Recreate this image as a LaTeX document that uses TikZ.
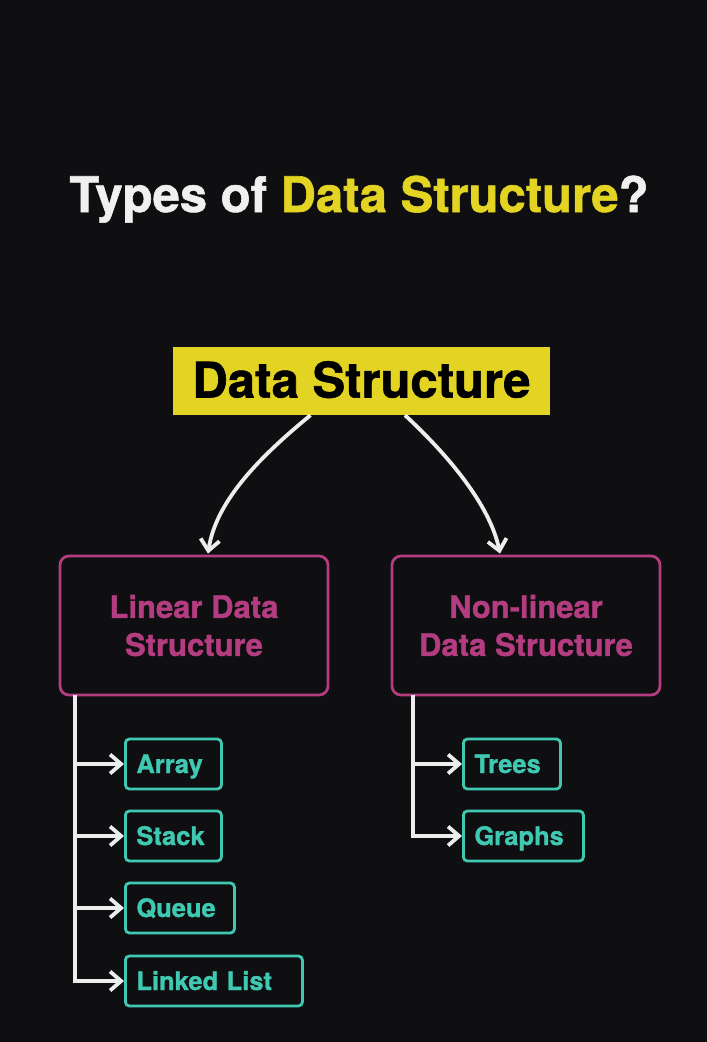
\documentclass[tikz,border=0pt]{standalone}
\usepackage{fontspec}
\setmainfont{TeX Gyre Heros}[BoldFeatures={FakeBold=1.2}]
\usetikzlibrary{arrows.meta,calc}
\definecolor{bg}{HTML}{0F0E10}
\definecolor{ttl}{HTML}{F0F0F0}
\definecolor{ylw}{HTML}{E3D322}
\definecolor{mag}{HTML}{B43C80}
\definecolor{teal}{HTML}{3FC9B2}
\definecolor{wht}{HTML}{EDEDED}
\begin{document}
\begin{tikzpicture}[x=1pt,y=-1pt,
  catbox/.style={draw=mag,line width=2.8pt,rounded corners=9pt,minimum width=268pt,minimum height=139pt,
     inner sep=0pt,align=center,text=mag,font=\bfseries\fontsize{31}{38}\selectfont},
  itembox/.style={draw=teal,line width=2.8pt,rounded corners=4pt,minimum height=50pt,inner xsep=11pt,inner ysep=0pt,
     text height=18pt,text depth=0pt,
     align=left,anchor=west,text=teal,font=\bfseries\fontsize{25.5}{28}\selectfont},
  conn/.style={draw=wht,line width=3.8pt},
  tip/.style={-{Straight Barb[length=11pt,width=19pt,line width=3.8pt]}}]
\useasboundingbox[fill=bg] (0,0) rectangle (707,1042);
\node[anchor=base,text=ttl,font=\bfseries\fontsize{49}{56}\selectfont,inner sep=0pt] (title) at (359,212)
  {Types of \textcolor{ylw}{Data Structure}?};
\node[fill=ylw,minimum width=377pt,minimum height=68pt,inner sep=0pt,text=black,text height=33pt,text depth=0pt,
  font=\bfseries\fontsize{49}{50}\selectfont] (ds) at (361.5,381) {Data Structure};
\node[catbox] (lin) at (194,625.5) {Linear Data\\Structure};
\node[catbox] (nl) at (526,625.5) {Non-linear\\Data Structure};
\node[itembox,text width=74pt] (arr) at (124,764) {Array};
\node[itembox,text width=74pt] (stk) at (124,836) {Stack};
\node[itembox,text width=87pt] (que) at (124,908) {Queue};
\node[itembox,text width=155pt] (ll) at (124,981) {Linked List};
\node[itembox,text width=75pt] (tre) at (462,764) {Trees};
\node[itembox,text width=98pt] (gra) at (462,836) {Graphs};
% curved arrows
\coordinate (s1) at ($(ds.south)+(-51,0)$);
\coordinate (e1) at ($(lin.north)+(14,-1)$);
\coordinate (s2) at ($(ds.south)+(43.5,0)$);
\coordinate (e2) at ($(nl.north)+(-26,-1)$);
\draw[conn,tip] (s1) .. controls (262,455) and (216,500) .. (e1);
\draw[conn,tip] (s2) .. controls (448,455) and (490,505) .. (e2);
% branch lines
\coordinate (lt) at (75,695);
\coordinate (rt) at (413,695);
\draw[conn,tip] (lt) -- (lt |- ll.west) -- (ll.west);
\draw[conn,tip] (lt |- arr.west) -- (arr.west);
\draw[conn,tip] (lt |- stk.west) -- (stk.west);
\draw[conn,tip] (lt |- que.west) -- (que.west);
\draw[conn,tip] (rt) -- (rt |- gra.west) -- (gra.west);
\draw[conn,tip] (rt |- tre.west) -- (tre.west);
\end{tikzpicture}
\end{document}
